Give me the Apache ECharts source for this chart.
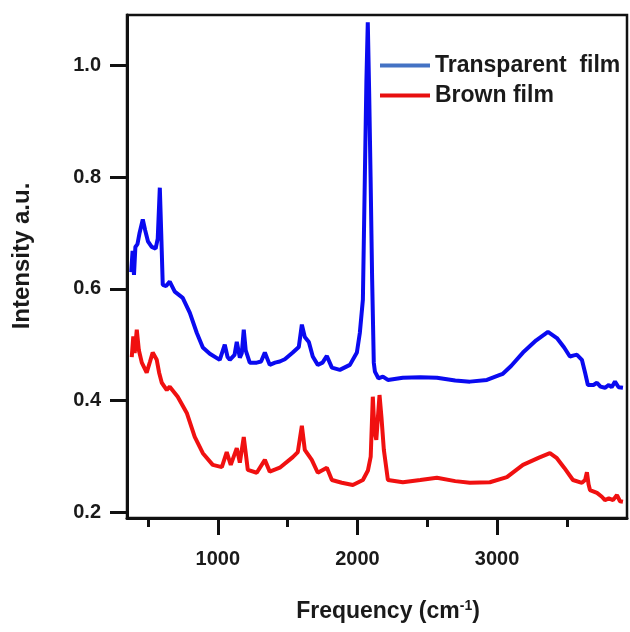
<!DOCTYPE html>
<html>
<head>
<meta charset="utf-8">
<script src="https://cdn.jsdelivr.net/npm/echarts@6/dist/echarts.min.js"></script>
<style>
html,body{margin:0;padding:0;background:#fff;}
#chart{width:630px;height:632px;}
</style>
</head>
<body>
<div id="chart"></div>
<script>
// Transparent film (blue): [wavenumber, intensity]
var transparentFilm = [
[380,0.630],[390,0.668],[400,0.625],[410,0.675],[425,0.680],[440,0.700],[463,0.724],[480,0.705],
[500,0.685],[527,0.675],[555,0.672],[570,0.690],[585,0.781],[595,0.700],[606,0.607],[630,0.605],
[656,0.613],[692,0.595],[749,0.584],[800,0.557],[850,0.521],[893,0.495],[943,0.484],[1014,0.473],
[1050,0.500],[1070,0.478],[1086,0.473],[1120,0.482],[1136,0.505],[1158,0.477],[1172,0.485],[1186,0.527],
[1200,0.490],[1229,0.468],[1279,0.468],[1310,0.470],[1337,0.486],[1372,0.464],[1410,0.468],[1444,0.470],
[1480,0.474],[1537,0.486],[1580,0.496],[1602,0.536],[1623,0.514],[1652,0.505],[1680,0.479],[1716,0.464],
[1750,0.468],[1781,0.480],[1817,0.459],[1874,0.455],[1946,0.464],[1996,0.486],[2017,0.521],[2039,0.581],
[2053,0.800],[2064,0.970],[2074,1.077],[2084,0.950],[2094,0.800],[2105,0.620],[2117,0.468],[2125,0.452],
[2150,0.440],[2182,0.443],[2218,0.437],[2325,0.441],[2450,0.442],[2569,0.441],[2700,0.436],[2805,0.434],
[2927,0.437],[3020,0.446],[3041,0.448],[3100,0.462],[3185,0.486],[3280,0.508],[3364,0.523],[3428,0.512],
[3480,0.495],[3521,0.479],[3550,0.481],[3572,0.482],[3607,0.473],[3630,0.450],[3650,0.428],[3690,0.428],
[3715,0.432],[3740,0.425],[3772,0.423],[3800,0.428],[3820,0.424],[3844,0.434],[3870,0.424],[3901,0.423]
];
// Brown film (red): [wavenumber, intensity]
var brownFilm = [
[384,0.478],[395,0.515],[405,0.485],[420,0.527],[435,0.490],[456,0.468],[491,0.450],[515,0.470],
[534,0.486],[563,0.473],[580,0.450],[599,0.432],[635,0.419],[656,0.425],[713,0.407],[778,0.378],
[835,0.335],[893,0.306],[964,0.285],[1029,0.281],[1064,0.308],[1093,0.285],[1136,0.315],[1158,0.289],
[1186,0.335],[1215,0.276],[1279,0.271],[1337,0.294],[1372,0.273],[1444,0.280],[1537,0.299],[1573,0.308],
[1602,0.355],[1623,0.312],[1673,0.294],[1716,0.271],[1781,0.280],[1817,0.258],[1888,0.253],[1967,0.249],
[2039,0.258],[2075,0.275],[2095,0.300],[2110,0.407],[2122,0.345],[2135,0.330],[2158,0.410],[2172,0.370],
[2189,0.312],[2218,0.258],[2325,0.254],[2450,0.258],[2569,0.262],[2700,0.256],[2805,0.253],[2948,0.254],
[3070,0.263],[3185,0.285],[3300,0.298],[3378,0.306],[3428,0.297],[3480,0.280],[3543,0.258],[3607,0.253],
[3630,0.258],[3643,0.272],[3655,0.250],[3665,0.240],[3715,0.235],[3750,0.228],[3772,0.222],[3800,0.225],
[3830,0.222],[3858,0.231],[3880,0.220],[3901,0.219]
];
var seriesNames = ['Transparent  film', 'Brown film'];
var xMajorTicks = [1000, 2000, 3000];
var xMinorTicks = [500, 1500, 2500, 3500];
var yTicks = [0.2, 0.4, 0.6, 0.8, 1.0];

var FONT = '"Liberation Sans", Arial, sans-serif';
var chart = echarts.init(document.getElementById('chart'), null, {renderer: 'canvas'});
var axisBase = {
  type: 'value', min: 350, max: 3930, splitLine: {show: false}
};
chart.setOption({
  animation: false,
  backgroundColor: '#fff',
  grid: {left: 127, right: 3, top: 15, bottom: 114, show: true, borderColor: '#111', borderWidth: 2.5, containLabel: false},
  legend: {
    orient: 'vertical', left: 380, top: 54, padding: 0, itemWidth: 50, itemHeight: 4, itemGap: 7, icon: 'rect',
    textStyle: {fontFamily: FONT, fontSize: 23, fontWeight: 'bold', color: '#1a1a1a'},
    data: [
      {name: seriesNames[0], itemStyle: {color: '#4472C4'}},
      {name: seriesNames[1], itemStyle: {color: '#E81010'}}
    ]
  },
  xAxis: [
    Object.assign({}, axisBase, {
      position: 'bottom',
      axisLine: {show: true, onZero: false, lineStyle: {color: '#111', width: 3}},
      axisTick: {show: true, length: 17, customValues: xMajorTicks, lineStyle: {color: '#111', width: 3}},
      axisLabel: {show: true, customValues: xMajorTicks, margin: 31, fontFamily: FONT, fontSize: 20, fontWeight: 'bold', color: '#1a1a1a',
        formatter: function (v) { return String(v); }}
    }),
    Object.assign({}, axisBase, {
      position: 'bottom',
      axisLine: {show: false, onZero: false},
      axisTick: {show: true, length: 9, customValues: xMinorTicks, lineStyle: {color: '#111', width: 3}},
      axisLabel: {show: false}
    })
  ],
  yAxis: {
    type: 'value', min: 0.19, max: 1.09, splitLine: {show: false},
    axisLine: {show: true, onZero: false, lineStyle: {color: '#111', width: 3}},
    axisTick: {show: true, length: 17, customValues: yTicks, lineStyle: {color: '#111', width: 3}},
    axisLabel: {show: true, customValues: yTicks, margin: 26, fontFamily: FONT, fontSize: 20, fontWeight: 'bold', color: '#1a1a1a',
      formatter: function (v) { return v.toFixed(1); }}
  },
  series: [
    {name: seriesNames[0], type: 'line', data: transparentFilm, showSymbol: false, symbol: 'none',
     xAxisIndex: 0, lineStyle: {color: '#0a0af0', width: 4}, itemStyle: {color: '#0a0af0'}},
    {name: seriesNames[1], type: 'line', data: brownFilm, showSymbol: false, symbol: 'none',
     xAxisIndex: 0, lineStyle: {color: '#f01010', width: 4}, itemStyle: {color: '#f01010'}}
  ],
  graphic: [
    {type: 'text', x: 22, y: 256, rotation: Math.PI / 2,
     style: {text: 'Intensity a.u.', fontFamily: FONT, fontSize: 24, fontWeight: 'bold', fill: '#1a1a1a', align: 'center', verticalAlign: 'middle'}},
    {type: 'text', x: 388, y: 612,
     style: {text: '{a|Frequency (cm}{s|-1}{a|)}', align: 'center', verticalAlign: 'middle',
       rich: {
         a: {fontFamily: FONT, fontSize: 23, fontWeight: 'bold', fill: '#1a1a1a', lineHeight: 26},
         s: {fontFamily: FONT, fontSize: 14, fontWeight: 'bold', fill: '#1a1a1a', verticalAlign: 'top', lineHeight: 14}
       }}}
  ]
});
</script>
</body>
</html>
